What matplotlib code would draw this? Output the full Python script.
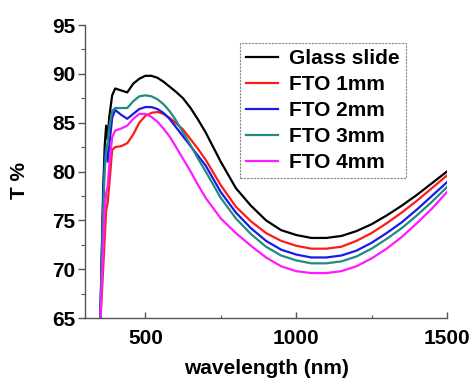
import matplotlib
matplotlib.use("Agg")
import matplotlib.pyplot as plt
from matplotlib.ticker import MultipleLocator

plt.rcParams['font.family'] = ['Liberation Sans', 'DejaVu Sans']
plt.rcParams['font.weight'] = 'bold'

wavelength = [350, 360, 365, 370, 375, 380, 390, 400, 420, 440, 460, 480, 500, 520, 540,
              560, 580, 600, 625, 650, 675, 700, 750, 800, 850, 900, 950, 1000, 1050,
              1100, 1150, 1200, 1250, 1300, 1350, 1400, 1450, 1500]

glass = [64.0, 78.0, 82.5, 84.7, 83.3, 85.5, 87.8, 88.5, 88.3, 88.1, 89.0, 89.5, 89.8, 89.8, 89.6,
         89.2, 88.7, 88.2, 87.5, 86.5, 85.3, 84.0, 81.0, 78.3, 76.5, 75.0, 74.0, 73.5, 73.2,
         73.2, 73.4, 73.9, 74.6, 75.5, 76.5, 77.6, 78.8, 80.0]

fto1 = [64.0, 70.0, 73.0, 76.0, 76.8, 78.5, 82.2, 82.5, 82.6, 82.9, 83.8, 85.0, 85.7, 86.0, 86.1,
        85.9, 85.5, 85.0, 84.3, 83.3, 82.3, 81.2, 78.6, 76.4, 74.9, 73.7, 72.9, 72.4, 72.1,
        72.1, 72.3, 72.9, 73.7, 74.7, 75.8, 77.0, 78.3, 79.6]

fto2 = [64.0, 77.0, 81.0, 82.5, 81.0, 82.5, 85.5, 86.3, 85.8, 85.4, 85.9, 86.4, 86.6, 86.6, 86.4,
        86.0, 85.4, 84.6, 83.6, 82.6, 81.6, 80.6, 77.9, 75.8, 74.2, 72.9, 72.0, 71.5, 71.2,
        71.2, 71.4, 71.9, 72.7, 73.7, 74.8, 76.1, 77.5, 78.9]

fto3 = [64.0, 76.0, 80.0, 82.0, 83.0, 84.5, 86.2, 86.5, 86.5, 86.5, 87.2, 87.7, 87.8, 87.7, 87.4,
        86.9, 86.2, 85.3, 84.0, 82.7, 81.3, 80.0, 77.3, 75.2, 73.6, 72.3, 71.4, 70.9, 70.6,
        70.6, 70.8, 71.3, 72.1, 73.1, 74.2, 75.5, 76.9, 78.4]

fto4 = [64.0, 72.0, 76.0, 77.8, 78.5, 80.5, 83.5, 84.2, 84.4, 84.7, 85.4, 85.9, 85.9, 85.6, 85.1,
        84.4, 83.6, 82.6, 81.3, 80.0, 78.6, 77.3, 75.2, 73.7, 72.4, 71.2, 70.3, 69.8, 69.6,
        69.6, 69.8, 70.3, 71.1, 72.1, 73.3, 74.7, 76.2, 77.9]

labels = ["Glass slide", "FTO 1mm", "FTO 2mm", "FTO 3mm", "FTO 4mm"]
colors = ["#000000", "#ff1a1a", "#1a1ae6", "#1f8c7f", "#ff1aff"]
series = [glass, fto1, fto2, fto3, fto4]

fig = plt.figure(figsize=(4.75, 3.85), dpi=100)
ax = fig.add_axes([0.179, 0.174, 0.762, 0.761])

for vals, lab, col in zip(series, labels, colors):
    ax.plot(wavelength, vals, color=col, lw=1.6, label=lab)

ax.set_xlim(300, 1500)
ax.set_ylim(65, 95)
ax.xaxis.set_major_locator(MultipleLocator(500))
ax.xaxis.set_minor_locator(MultipleLocator(250))
ax.yaxis.set_major_locator(MultipleLocator(5))
ax.yaxis.set_minor_locator(MultipleLocator(2.5))

for s in ['top', 'right']:
    ax.spines[s].set_visible(False)
for s in ['left', 'bottom']:
    ax.spines[s].set_color('#555555')
    ax.spines[s].set_linewidth(1.0)

ax.tick_params(axis='y', which='major', direction='out', length=5, width=1, color='#555555',
               labelsize=15, pad=2)
ax.tick_params(axis='y', which='minor', direction='out', length=3, width=0.8, color='#555555')
ax.tick_params(axis='x', which='major', direction='in', length=4, width=1, color='#555555',
               labelsize=15, pad=8)
ax.tick_params(axis='x', which='minor', direction='in', length=2.5, width=0.8, color='#555555')
for t in ax.get_xticklabels() + ax.get_yticklabels():
    t.set_fontweight('bold')

ax.set_xlabel("wavelength (nm)", fontsize=15, fontweight='bold', labelpad=8)
ax.set_ylabel("T %", fontsize=15, fontweight='bold', labelpad=8)
ax.yaxis.set_label_coords(-0.155, 0.47)

leg = ax.legend(loc='upper right', bbox_to_anchor=(0.886, 0.94), fontsize=15,
                frameon=True, fancybox=False, edgecolor='#888888', framealpha=1,
                handlelength=1.55, handletextpad=0.5, labelspacing=0.34,
                borderpad=0.3, borderaxespad=0)
leg.get_frame().set_linewidth(0.8)
leg.get_frame().set_linestyle((0, (2, 1)))
for t in leg.get_texts():
    t.set_fontweight('bold')

fig.savefig("out.png", dpi=100)
